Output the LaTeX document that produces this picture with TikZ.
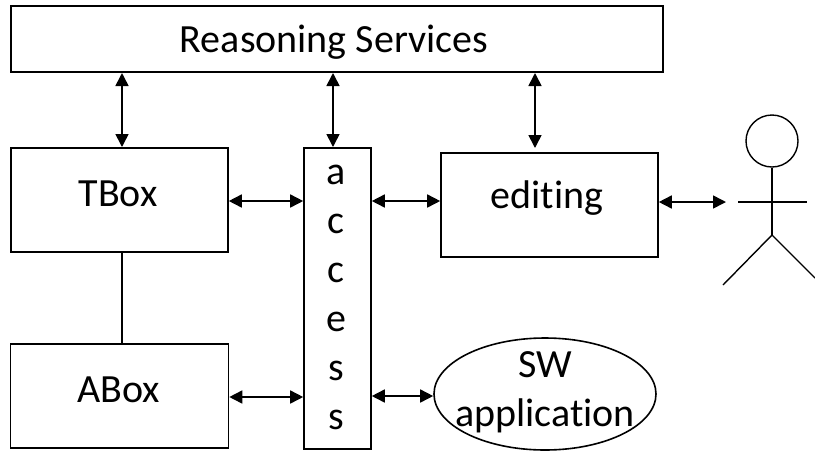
\documentclass[tikz,border=0pt]{standalone}
\usepackage{fontspec}
\setmainfont[Ligatures=NoCommon]{Carlito}
\usetikzlibrary{arrows.meta, positioning, shapes.geometric}
\tikzset{%
	every box/.style={
		draw,
		line width=1.6pt
	},
	big text/.style={
		font=\fontsize{40}{49}\selectfont,
		align=center,
		inner sep=0pt
	},
	both way/.style={
		{Stealth[length=13pt,width=13pt,inset=0pt]}-{Stealth[length=13pt,width=13pt,inset=0pt]},
		line width=1.6pt
	},
	person line/.style={
		line width=1.4pt
	},
}
\begin{document}
\begin{tikzpicture}[x=1pt,y=-1pt]
	\useasboundingbox (0,0) rectangle (815,451);
	% Draw the boxes
	\node[every box, minimum width=652pt, minimum height=66pt] (reasoning) at (337,39) {};
	\node[every box, minimum width=217pt, minimum height=104pt] (tbox) at (119.5,200) {};
	\node[every box, minimum width=218pt, minimum height=104pt] (abox) at (119.5,396) {};
	\node[every box, minimum width=67pt, minimum height=301pt] (access) at (337.5,298.5) {};
	\node[every box, minimum width=217pt, minimum height=104pt] (editing) at (549.5,205) {};
	\node[every box, ellipse, minimum width=222pt, minimum height=112pt, inner sep=0pt] (app) at (545,394) {};
	% Draw the text inside
	\node[big text] (reasoninglabel) at (334,42) {Reasoning Services};
	\node[big text] (tboxlabel) at (118,194) {TBox};
	\node[big text] (aboxlabel) at (119,390) {ABox};
	\node[big text] (editinglabel) at (547,198) {editing};
	\node[big text] (applabel) at (545,392) {SW\\application};
	\node[big text] (accesslabel) at (336,297) {a\\c\\c\\e\\s\\s};
	% Draw the person
	\node[draw, circle, line width=1.4pt, minimum size=52pt, inner sep=0pt] (head) at (772,141) {};
	\coordinate (hip) at (772,235);
	\coordinate (armleft) at (738,202);
	\coordinate (armright) at (807,202);
	\coordinate (legleft) at (723,285);
	\coordinate (legright) at (815,278);
	\draw[person line] (head) -- (hip);
	\draw[person line] (armleft) -- (armright);
	\draw[person line] (legleft) -- (hip) -- (legright);
	% Draw the arrows
	\coordinate (rs1) at (122,73);
	\coordinate (rs2) at (333,73);
	\coordinate (rs3) at (535,73);
	\coordinate (t1) at (122,147);
	\coordinate (a1) at (333,147);
	\coordinate (e1) at (535,148);
	\coordinate (user) at (726,202);
	\draw[both way] (rs1) -- (t1);
	\draw[both way] (rs2) -- (a1);
	\draw[both way] (rs3) -- (e1);
	\draw[both way] (tbox.east |- 0,201) -- (access.west |- 0,201);
	\draw[both way] (access.east |- 0,201) -- (editing.west |- 0,201);
	\draw[both way] (abox.east |- 0,397) -- (access.west |- 0,397);
	\draw[both way] (access.east |- 0,396) -- (app.west |- 0,396);
	\draw[both way] (editing.east |- 0,202) -- (user);
	\draw[person line] (rs1 |- tbox.south) -- (rs1 |- abox.north);
\end{tikzpicture}
\end{document}
